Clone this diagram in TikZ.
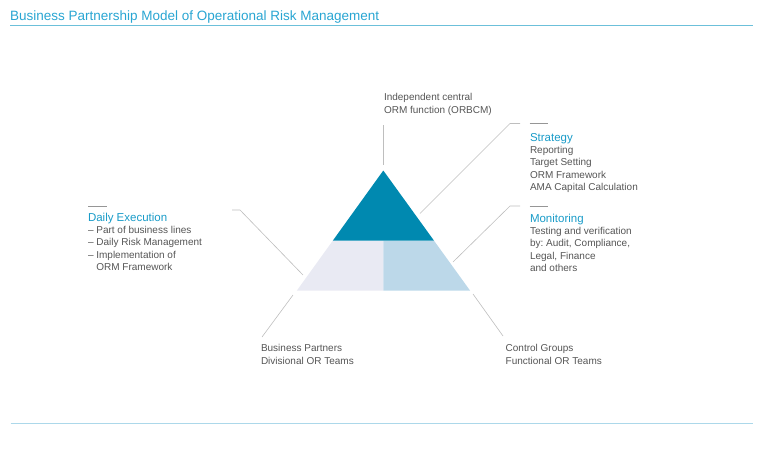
\documentclass[tikz,border=0pt]{standalone}
\usepackage{fontspec}
\setmainfont{Liberation Sans}
\frenchspacing
\usetikzlibrary{positioning}
\definecolor{rbdark}{RGB}{0,137,176}
\definecolor{rbleft}{RGB}{233,234,243}
\definecolor{rbright}{RGB}{188,216,233}
\definecolor{ttblue}{RGB}{40,165,210}
\definecolor{hdblue}{RGB}{25,155,200}
\definecolor{txgray}{RGB}{85,85,85}
\definecolor{lngray}{RGB}{190,190,190}
\definecolor{tkgray}{RGB}{150,150,150}
\definecolor{rltop}{RGB}{108,192,218}
\definecolor{rlbot}{RGB}{172,216,234}
\tikzset{
	node distance=5pt,
	every path/.style = {line width=0.5pt},
	every node/.style = {inner sep=0pt, outer sep=0pt, text=txgray, align=left, font=\fontsize{10}{12.4}\selectfont}
}

\begin{document}
\begin{tikzpicture}[x=1pt,y=-1pt,
	conn/.style={draw=lngray,line width=0.6pt},
	tick/.style={draw=tkgray,line width=0.8pt},
	head/.style={anchor=base west,text=hdblue,font=\fontsize{11.5}{13}\selectfont},
	body/.style={below right=5pt and 0pt of #1}]
	\useasboundingbox (0,0) rectangle (759,448);
	\node (title) [anchor=base west,text=ttblue,font=\fontsize{13.5}{16}\selectfont] at (10,20.7) {Business Partnership Model of Operational Risk Management};
	\draw [draw=rltop,line width=1.3pt] (10,25.7) -- (752.7,25.7);
	\draw [draw=rlbot,line width=1.3pt] (10.7,423.7) -- (752.7,423.7);
	\coordinate (apex) at (383.3,170.5);
	\coordinate (ml) at (332.9,240.5);
	\coordinate (mc) at (383.3,240.5);
	\coordinate (mr) at (433.9,240.5);
	\coordinate (bl) at (296.9,290.5);
	\coordinate (bc) at (383.3,290.5);
	\coordinate (br) at (470,290.5);
	\fill [rbleft] (ml) -- (mc) -- (bc) -- (bl) -- cycle;
	\fill [rbright] (mc) -- (mr) -- (br) -- (bc) -- cycle;
	\fill [rbdark] (apex) -- (mr) -- (ml) -- cycle;
	\node (orm) [anchor=north west] at (384,93.5) {Independent central\\ORM function (ORBCM)};
	\node (strat) [head] at (530,141) {Strategy};
	\node (stratb) [body=strat.base west] {Reporting\\Target Setting\\ORM Framework\\AMA Capital Calculation};
	\node (mon) [head] at (530,222.3) {Monitoring};
	\node (monb) [body=mon.base west] {Testing and verification\\by: Audit, Compliance,\\Legal, Finance\\and others};
	\node (daily) [head] at (88,221) {Daily Execution};
	\node (dailyb) [body=daily.base west] {-- Part of business lines\\-- Daily Risk Management\\-- Implementation of\\\hphantom{--~}ORM Framework};
	\node (bp) [anchor=north west] at (261,344.5) {Business Partners\\Divisional OR Teams};
	\node (cg) [anchor=north west] at (505.7,344.5) {Control Groups\\Functional OR Teams};
	\draw [tick] (529.5,123.5) -- (548,123.5);
	\draw [tick] (529.5,206) -- (548,206);
	\draw [tick] (88,206) -- (107,206);
	\coordinate (o1) at (383.3,125);
	\coordinate (o2) at (383.3,165);
	\coordinate (s1) at (420,213.5);
	\coordinate (s2) at (510,123.5);
	\coordinate (s3) at (520,123.5);
	\coordinate (m1) at (453,262);
	\coordinate (m2) at (510,206);
	\coordinate (m3) at (520,206);
	\coordinate (d1) at (303,275);
	\coordinate (d2) at (240,210);
	\coordinate (d3) at (232,210);
	\coordinate (b1) at (293,295);
	\coordinate (b2) at (262,337);
	\coordinate (c1) at (473,294);
	\coordinate (c2) at (503,336);
	\draw [conn] (o1) -- (o2);
	\draw [conn] (s1) -- (s2) -- (s3);
	\draw [conn] (m1) -- (m2) -- (m3);
	\draw [conn] (d1) -- (d2) -- (d3);
	\draw [conn] (b1) -- (b2);
	\draw [conn] (c1) -- (c2);
\end{tikzpicture}
\end{document}
